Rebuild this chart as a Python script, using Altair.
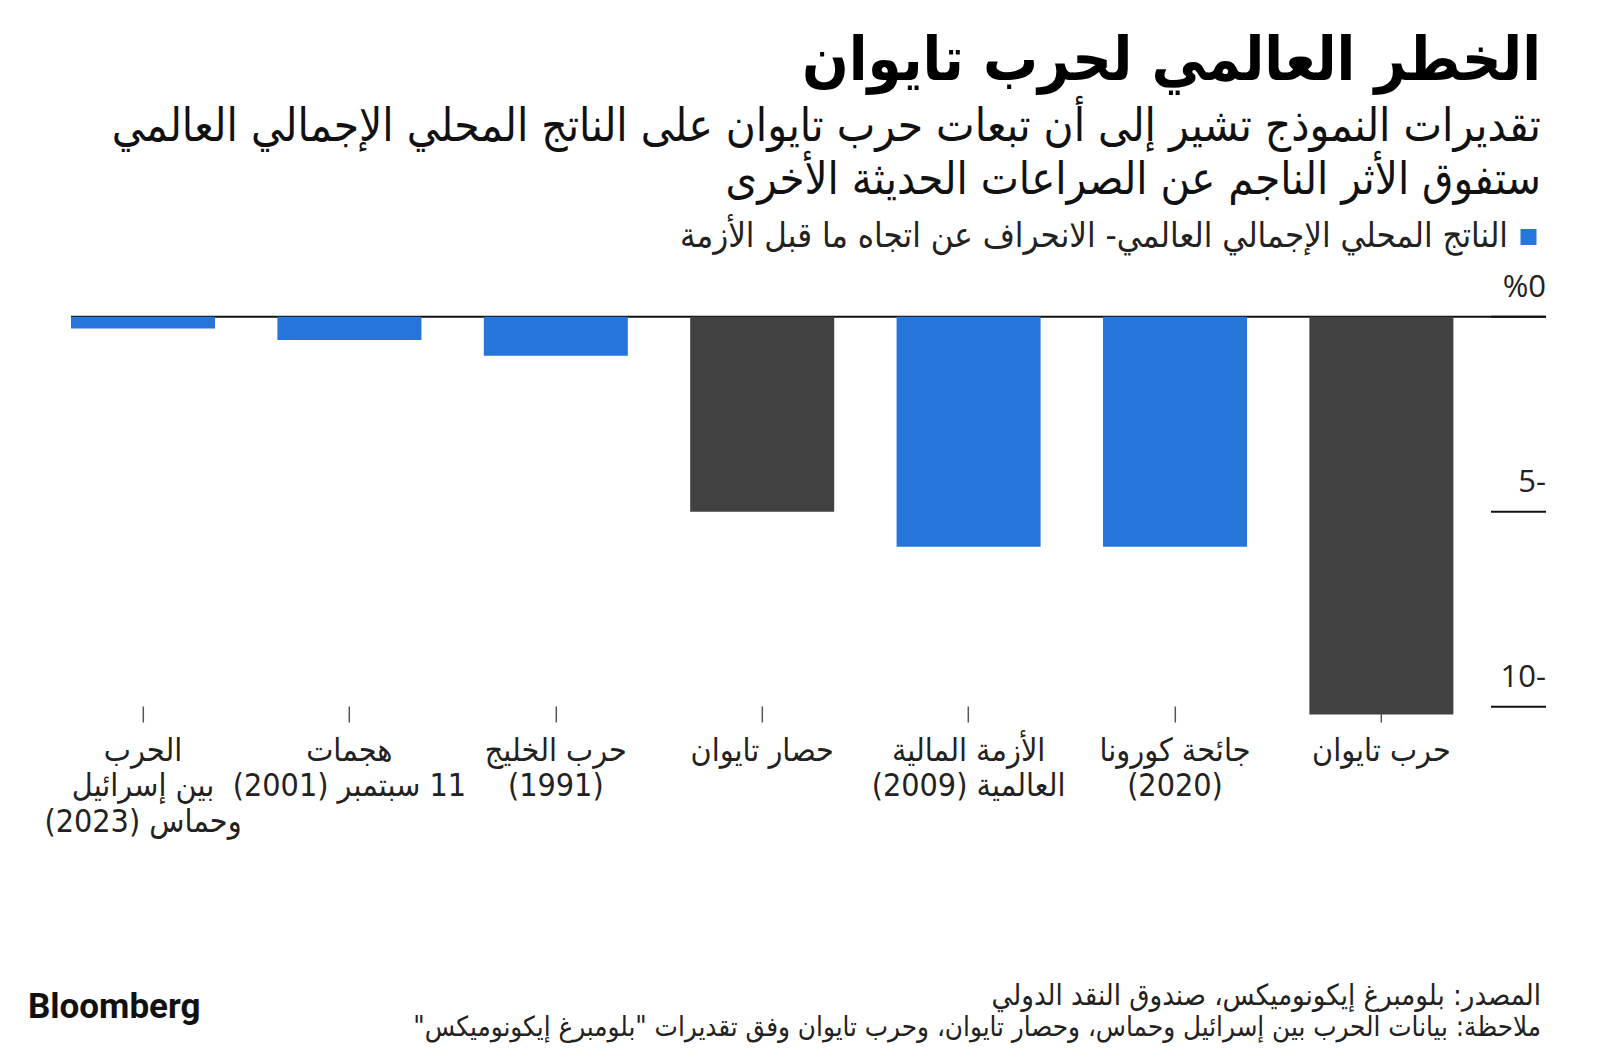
import altair as alt
import pandas as pd

# ---------------- data ----------------
categories = [
    "الحرب\nبين إسرائيل\nوحماس (2023)",
    "هجمات\n11 سبتمبر (2001)",
    "حرب الخليج\n(1991)",
    "حصار تايوان",
    "الأزمة المالية\nالعالمية (2009)",
    "جائحة كورونا\n(2020)",
    "حرب تايوان",
]
values = [-0.3, -0.6, -1.0, -5.0, -5.9, -5.9, -10.2]
kinds = ["historical", "historical", "historical", "scenario", "historical", "historical", "scenario"]

tick_values = [0, -5, -10]
tick_labels = ["%0", "5-", "10-"]

title_text = "الخطر العالمي لحرب تايوان"
subtitle_lines = [
    "تقديرات النموذج تشير إلى أن تبعات حرب تايوان على الناتج المحلي الإجمالي العالمي",
    "ستفوق الأثر الناجم عن الصراعات الحديثة الأخرى",
]
legend_label = "الناتج المحلي الإجمالي العالمي- الانحراف عن اتجاه ما قبل الأزمة"
footer_lines = [
    "المصدر: بلومبرغ إيكونوميكس، صندوق النقد الدولي",
    "ملاحظة: بيانات الحرب بين إسرائيل وحماس، وحصار تايوان، وحرب تايوان وفق تقديرات \"بلومبرغ إيكونوميكس\"",
]
brand = "Bloomberg"

# right-to-left embedding for Arabic text lines
RLE, PDF = "\u202b", "\u202c"


def rtl(s):
    return "\n".join(RLE + line + PDF for line in s.split("\n"))


# ---------------- style ----------------
BLUE = "#2575DA"
GREY = "#414141"
AR_FONT = "DejaVu Sans Condensed, DejaVu Sans"
W = 1444.8
H = 389.3
YDOM = [-9.982, 0]

cat_display = [rtl(c) for c in categories]
bars_df = pd.DataFrame({"cat": cat_display, "v": values, "kind": kinds})
ticks_df = pd.DataFrame({"v": tick_values, "lab": tick_labels})
zero_df = pd.DataFrame({"v": [0]})

yscale = alt.Scale(domain=YDOM, nice=False, zero=True)

zero_line = alt.Chart(zero_df).mark_rule(color="#111", strokeWidth=2).encode(
    y=alt.Y("v:Q", scale=yscale, axis=None),
    x=alt.value(31.2),
    x2=alt.value(1506.2),
)

bars = alt.Chart(bars_df).mark_bar().encode(
    x=alt.X(
        "cat:N",
        sort=cat_display,
        scale=alt.Scale(paddingInner=0.3023, paddingOuter=0.1512),
        axis=alt.Axis(
            title=None,
            domain=False,
            grid=False,
            ticks=True,
            tickSize=16,
            tickColor="#555",
            tickWidth=1.5,
            labelExpr="split(datum.value, '\\n')",
            labelFont=AR_FONT,
            labelFontSize=32,
            labelColor="#222",
            labelPadding=13,
            labelBaseline="top",
            labelLineHeight=35.5,
            labelOverlap=False,
            labelLimit=400,
            labelAngle=0,
        ),
    ),
    y=alt.Y("v:Q", scale=yscale, axis=None),
    color=alt.Color(
        "kind:N",
        scale=alt.Scale(domain=["historical", "scenario"], range=[BLUE, GREY]),
        legend=None,
    ),
)

tick_rules = alt.Chart(ticks_df).mark_rule(color="#111", strokeWidth=2).encode(
    y=alt.Y("v:Q", scale=yscale, axis=None),
    x=alt.value(1451.2),
    x2=alt.value(1506.2),
)

tick_text = alt.Chart(ticks_df).mark_text(
    align="right", baseline="alphabetic", dy=-20, fontSize=31, font="Open Sans", color="#222"
).encode(
    y=alt.Y("v:Q", scale=yscale, axis=None),
    x=alt.value(1506.2),
    text="lab:N",
)


def label(text, x, y, size, align="right", weight="normal", color="#111", font=AR_FONT, baseline="alphabetic"):
    return alt.Chart(pd.DataFrame({"t": [text]})).mark_text(
        align=align, baseline=baseline, fontSize=size, fontWeight=weight, color=color, font=font
    ).encode(x=alt.value(x), y=alt.value(y), text="t:N")


title = label(rtl(title_text), 1501.2, -236.7, 61, weight="bold", color="#000")
sub1 = label(rtl(subtitle_lines[0]), 1501.2, -175.7, 45.5, color="#111")
sub2 = label(rtl(subtitle_lines[1]), 1501.2, -122.7, 45, color="#111")

legend_sq = alt.Chart(pd.DataFrame({"t": [legend_label]})).mark_square(
    size=256, color=BLUE, opacity=1
).encode(x=alt.value(1488.7), y=alt.value(-79.7))
legend_txt = label(rtl(legend_label), 1468.2, -79.7, 34.5, color="#222", baseline="middle")

brand_txt = label(brand, -11.8, 690.3, 35, align="left", weight="bold", color="#111",
                  font="Roboto", baseline="middle")
foot1 = label(rtl(footer_lines[0]), 1501.2, 679.3, 29, color="#222", baseline="middle")
foot2 = label(rtl(footer_lines[1]), 1501.2, 711.3, 27.5, color="#222", baseline="middle")

chart = alt.layer(
    zero_line, bars, tick_rules, tick_text,
    title, sub1, sub2, legend_sq, legend_txt, brand_txt, foot1, foot2,
).properties(
    width=W,
    height=H,
    autosize=alt.AutoSizeParams(type="none"),
    padding={"left": 31.8, "top": 308.7, "right": 107.4, "bottom": 349},
    background="white",
).configure_view(stroke=None)

chart.save("out.html", embed_options={"renderer": "svg", "actions": False})
